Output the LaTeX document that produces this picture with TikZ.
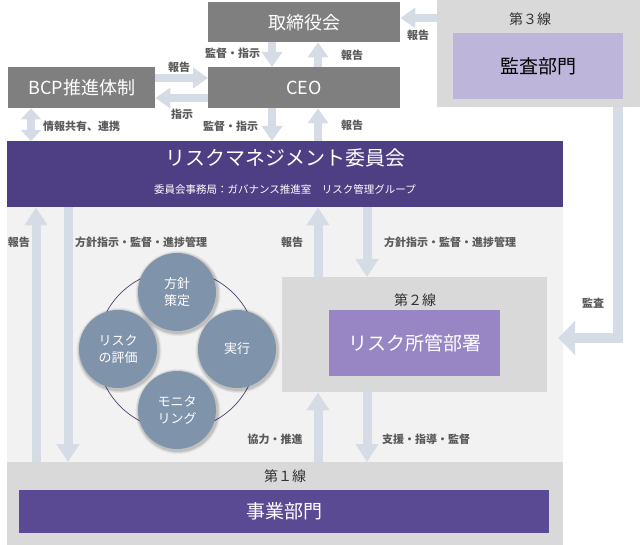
\documentclass[tikz,border=0pt]{standalone}
\usepackage{fontspec}
\setmainfont{Noto Sans CJK JP}
\usetikzlibrary{arrows.meta,calc}
\definecolor{gboxc}{HTML}{7F7F7F}
\definecolor{regc}{HTML}{D9D9D9}
\definecolor{lightc}{HTML}{F2F2F2}
\definecolor{rmcc}{HTML}{4E3F85}
\definecolor{bizc}{HTML}{5A4993}
\definecolor{auditc}{HTML}{BDB5DA}
\definecolor{deptc}{HTML}{9886C4}
\definecolor{arrc}{HTML}{D6DCE5}
\definecolor{circc}{HTML}{7F93AB}
\definecolor{labc}{HTML}{5A5A5A}
\definecolor{ringc}{HTML}{4A4270}
\tikzset{
  box/.style={inner sep=0pt, draw=none, anchor=north west},
  gbox/.style={box, fill=gboxc, text=white, font=\fontsize{18}{22}\selectfont},
  arr/.style={draw=arrc, line width=9pt, -{Triangle[width=22pt,length=18pt]}},
  sarr/.style={draw=arrc, line width=8pt, -{Triangle[width=20pt,length=15pt]}},
  darr/.style={draw=arrc, line width=8pt, {Triangle[width=20pt,length=11pt]}-{Triangle[width=20pt,length=11pt]}},
  lab/.style={font=\fontsize{11}{13}\selectfont\bfseries, text=labc, inner sep=0pt},
  cyc/.style={circle, fill=circc, minimum size=78pt, inner sep=0pt, text=white, align=center, font=\fontsize{13}{17}\selectfont},
  linelab/.style={inner sep=0pt, text=black!80, font=\fontsize{14}{16}\selectfont},
}
\begin{document}
\begin{tikzpicture}[x=1pt,y=-1pt]
\useasboundingbox (0,0) rectangle (640,545);
% regions
\node[box, fill=regc, minimum width=203pt, minimum height=107pt] (l3) at (437,0) {};
\node[box, fill=auditc, minimum width=170pt, minimum height=66pt, font=\fontsize{19}{22}\selectfont] (audit) at (453,33) {監査部門};
\node[linelab] (l3t) at (530,19) {第３線};
\node[box, fill=lightc, minimum width=556pt, minimum height=255pt] (light) at (7,207) {};
\node[box, fill=regc, minimum width=556pt, minimum height=83pt] (l1) at (7,462) {};
\node[box, fill=bizc, text=white, minimum width=530pt, minimum height=43pt, font=\fontsize{19}{22}\selectfont] (biz) at (19,490) {事業部門};
\node[linelab] (l1t) at (285,476) {第１線};
\node[box, fill=regc, minimum width=265pt, minimum height=115pt] (l2) at (282,277) {};
\node[box, fill=deptc, text=white, minimum width=171pt, minimum height=66pt, font=\fontsize{19}{22}\selectfont] (dept) at (329,310) {リスク所管部署};
\node[linelab] (l2t) at (415,300) {第２線};
% top boxes
\node[gbox, minimum width=192pt, minimum height=40pt] (board) at (208,2) {取締役会};
\node[gbox, minimum width=192pt, minimum height=41pt] (ceo) at (208,67) {CEO};
\node[gbox, minimum width=147pt, minimum height=41pt] (bcp) at (8,67) {BCP推進体制};
% committee
\node[box, fill=rmcc, minimum width=556pt, minimum height=66pt] (rmc) at (7,141) {};
\node[inner sep=0pt, text=white, font=\fontsize{20}{24}\selectfont] (rmct) at (285,158) {リスクマネジメント委員会};
\node[inner sep=0pt, text=white, font=\fontsize{10.5}{12}\selectfont] (rmcs) at (285,190) {委員会事務局：ガバナンス推進室　リスク管理グループ};
% helper coordinates
\coordinate (x31) at (31,0);
\coordinate (x36) at (36,0);
\coordinate (x68) at (68,0);
\coordinate (x272) at (272,0);
\coordinate (x318) at (318,0);
\coordinate (x367) at (367,0);
\coordinate (x618) at (618,0);
\coordinate (y18) at (0,18);
\coordinate (y78) at (0,78);
\coordinate (y98) at (0,98);
\coordinate (auditEnd) at (558,338);
% arrows top
\draw[sarr] (l3.west |- y18) -- (board.east |- y18);
\draw[sarr] (board.south -| x272) -- (ceo.north -| x272);
\draw[sarr] (ceo.north -| x318) -- (board.south -| x318);
\draw[sarr] (bcp.east |- y78) -- (ceo.west |- y78);
\draw[sarr] (ceo.west |- y98) -- (bcp.east |- y98);
\draw[darr] (bcp.south -| x31) -- (rmc.north -| x31);
\draw[sarr] (ceo.south -| x272) -- (rmc.north -| x272);
\draw[sarr] (rmc.north -| x318) -- (ceo.south -| x318);
% arrows middle
\draw[arr] (l1.north -| x36) -- (rmc.south -| x36);
\draw[arr] (rmc.south -| x68) -- (l1.north -| x68);
\draw[arr] (l2.north -| x318) -- (rmc.south -| x318);
\draw[arr] (rmc.south -| x367) -- (l2.north -| x367);
\draw[arr] (l1.north -| x318) -- (l2.south -| x318);
\draw[arr] (l2.south -| x367) -- (l1.north -| x367);
\draw[draw=arrc, line width=10pt, line join=miter, -{Triangle[width=33pt,length=17pt]}] (l3.south -| x618) |- (auditEnd);
% labels
\node[lab] (lb1) at (418,35) {報告};
\node[lab, anchor=west] (lb2) at (205,53) {監督・指示};
\node[lab] (lb3) at (352,55) {報告};
\node[lab] (lb4) at (179,67) {報告};
\node[lab] (lb5) at (182,114) {指示};
\node[lab, anchor=west] (lb6) at (43,126) {情報共有、連携};
\node[lab, anchor=west] (lb7) at (203,126) {監督・指示};
\node[lab] (lb8) at (352,125) {報告};
\node[lab] (lb9) at (19,242) {報告};
\node[lab, anchor=west] (lb10) at (75,242) {方針指示・監督・進捗管理};
\node[lab] (lb11) at (292,242) {報告};
\node[lab, anchor=west] (lb12) at (384,242) {方針指示・監督・進捗管理};
\node[lab] (lb13) at (593,303) {監査};
\node[lab] (lb14) at (275,439) {協力・推進};
\node[lab, anchor=west] (lb15) at (382,439) {支援・指導・監督};
% cycle
\draw[ringc, line width=0.7pt] (177,350) circle (80);
\foreach \cx/\cy in {177/292, 237/349, 118/349, 177/410}{
  \foreach \r/\o in {42.5/0.05, 41.5/0.07, 40.5/0.09}{
    \fill[black, opacity=\o] (\cx+1,\cy+1.5) circle (\r);
  }
}
\node[cyc] (c1) at (177,292) {方針\\策定};
\node[cyc] (c2) at (237,349) {実行};
\node[cyc] (c3) at (118,349) {リスク\\の評価};
\node[cyc] (c4) at (177,410) {モニタ\\リング};
\end{tikzpicture}
\end{document}
